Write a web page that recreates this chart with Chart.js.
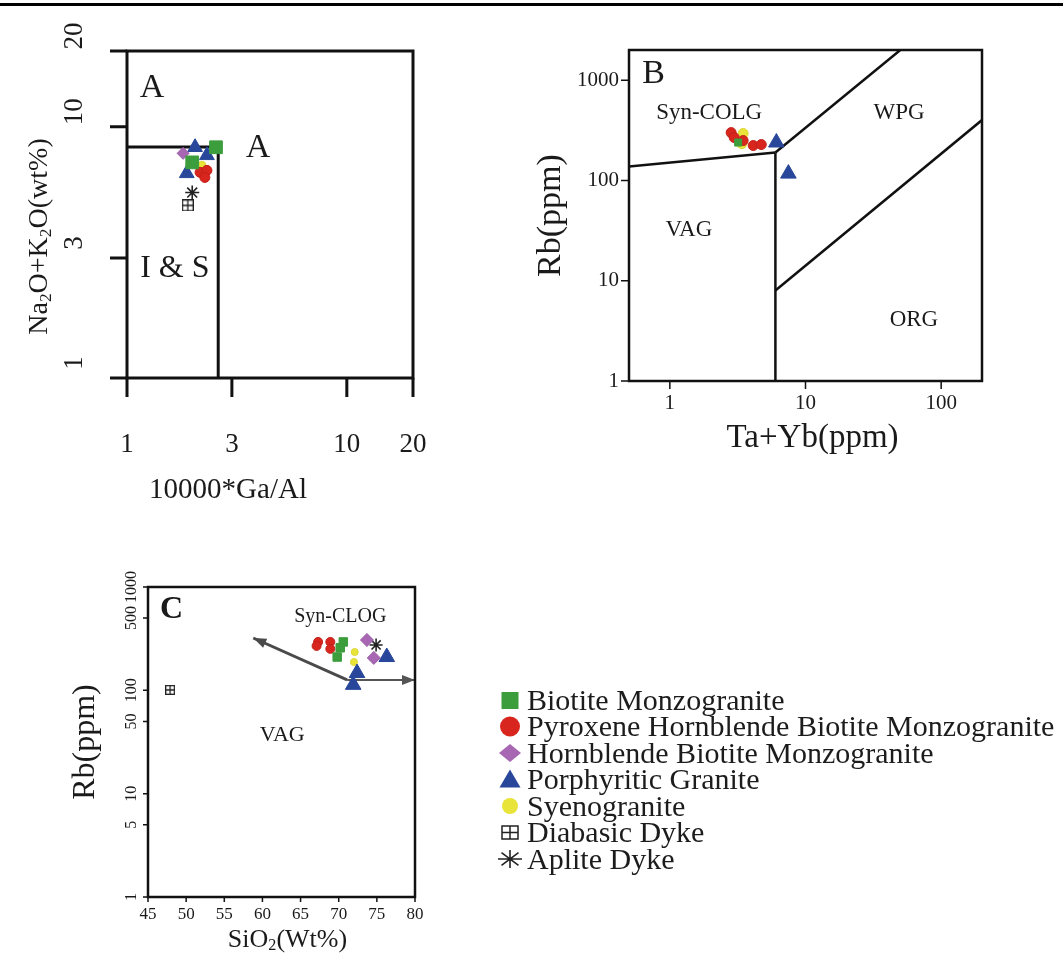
<!DOCTYPE html>
<html>
<head>
<meta charset="utf-8">
<script src="https://cdn.jsdelivr.net/npm/chart.js@4.4.1/dist/chart.umd.min.js"></script>
<style>
  html, body { margin: 0; padding: 0; background: #fff; }
  #page { position: relative; width: 1063px; height: 954px; overflow: hidden; }
  #page canvas { position: absolute; }
  #rule { position: absolute; left: 0; top: 3px; width: 1063px; height: 3px; background: #000; }
</style>
</head>
<body>
<div id="page">
  <div id="rule"></div>
  <canvas id="chartA" width="530" height="530" style="left:0;top:0;width:530px;height:530px"></canvas>
  <canvas id="chartB" width="533" height="470" style="left:530px;top:0;width:533px;height:470px"></canvas>
  <canvas id="chartC" width="1063" height="424" style="left:0;top:530px;width:1063px;height:424px"></canvas>
</div>
<script>
const SERIF = "'Liberation Serif', 'Times New Roman', serif";

// legend order
const seriesNames = ['Biotite Monzogranite', 'Pyroxene Hornblende Biotite Monzogranite',
  'Hornblende Biotite Monzogranite', 'Porphyritic Granite', 'Syenogranite', 'Diabasic Dyke', 'Aplite Dyke'];

// --- A: 10000*Ga/Al vs Na2O+K2O ---
const gaBiotite = [[2.54, 8.28], [1.98, 7.21]];
const gaPyroxene = [[2.15, 6.58], [2.31, 6.70], [2.26, 6.28]];
const gaHornblende = [[1.80, 7.83]];
const gaPorphyritic = [[2.04, 8.28], [2.31, 7.69], [1.87, 6.52]];
const gaSyeno = [[2.19, 7.02]];
const gaDiabase = [[1.89, 4.86]];
const gaAplite = [[1.98, 5.47]];
const gaTicksX = [1, 3, 10, 20];
const gaTicksY = [1, 3, 10, 20];
const gaBoundary = [[1, 8.3], [2.6, 8.3], [2.6, 1]];

// --- B: Ta+Yb vs Rb ---
const tyBiotite = [[3.19, 239]];
const tyPyroxene = [[2.83, 300], [2.98, 268], [3.47, 250], [4.12, 223], [4.72, 228]];
const tyHornblende = [];
const tyPorphyritic = [[6.1, 239], [7.48, 117]];
const tySyeno = [[3.47, 294], [3.40, 233]];
const tyDiabase = [];
const tyAplite = [];
const tyTicksX = [1, 10, 100];
const tyTicksY = [1, 10, 100, 1000];
const tyColgVag = [[0.5, 138], [6, 190]];
const tyVagWpg = [[6, 190], [6, 1]];
const tyColgWpg = [[6, 190], [50, 2000]];
const tyWpgOrg = [[6, 8], [200, 400]];

// --- C: SiO2 vs Rb ---
const siBiotite = [[70.6, 294], [70.2, 258], [69.8, 210]];
const siPyroxene = [[67.3, 294], [67.1, 269], [68.9, 294], [68.9, 252]];
const siHornblende = [[73.7, 307], [74.6, 206]];
const siPorphyritic = [[72.4, 147], [71.9, 113], [76.3, 210]];
const siSyeno = [[72.1, 235], [72.0, 188]];
const siDiabase = [[47.9, 101]];
const siAplite = [[74.9, 275]];
const siTicksX = [45, 50, 55, 60, 65, 70, 75, 80];
const siTicksY = [1, 5, 10, 50, 100, 500, 1000];
const siArrowUp = [[71.1, 126], [58.8, 321]];
const siArrowRight = [[71.1, 126], [80, 126]];

const seriesStyle = [
  { shape: 'rect', fill: '#3c9d3c', line: '#3c9d3c' },
  { shape: 'circle', fill: '#d8261e', line: '#c21f18' },
  { shape: 'rectRot', fill: '#a767b2', line: '#9a5aa5' },
  { shape: 'triangle', fill: '#28479a', line: '#28479a' },
  { shape: 'circle', fill: '#e8e43a', line: '#dcd636' },
  { shape: 'boxcross', fill: '#fff', line: '#222' },
  { shape: 'star', fill: '#222', line: '#222' }
];

function boxCross(size, lw) {
  const c = document.createElement('canvas');
  c.width = size; c.height = size;
  const g = c.getContext('2d');
  g.strokeStyle = '#222'; g.lineWidth = lw;
  g.strokeRect(lw / 2, lw / 2, size - lw, size - lw);
  g.beginPath();
  g.moveTo(size / 2, 0); g.lineTo(size / 2, size);
  g.moveTo(0, size / 2); g.lineTo(size, size / 2);
  g.stroke();
  return c;
}

// text with subscripts: parts = [[text, isSub], ...]
function drawRich(ctx, parts, x, y, size, align, weight) {
  const sub = size * 0.62;
  const fnt = s => (weight || '') + ' ' + (s ? sub : size) + 'px ' + SERIF;
  let total = 0;
  const widths = parts.map(([t, s]) => { ctx.font = fnt(s); const w = ctx.measureText(t).width; total += w; return w; });
  let cx = align === 'center' ? x - total / 2 : (align === 'right' ? x - total : x);
  ctx.textAlign = 'left';
  parts.forEach(([t, s], i) => {
    ctx.font = fnt(s);
    ctx.fillText(t, cx, s ? y + size * 0.22 : y);
    cx += widths[i];
  });
}

function framePlugin(o) {
  return {
    id: 'frame',
    afterDatasetsDraw(chart) {
      const { ctx, chartArea: a, scales: { x, y } } = chart;
      ctx.save();
      // arrowheads on line ends
      chart.data.datasets.forEach((ds, i) => {
        if (!ds.arrow) return;
        const pts = chart.getDatasetMeta(i).data;
        const p1 = pts[pts.length - 2], p2 = pts[pts.length - 1];
        const ang = Math.atan2(p2.y - p1.y, p2.x - p1.x);
        ctx.fillStyle = ds.borderColor;
        ctx.beginPath();
        ctx.moveTo(p2.x, p2.y);
        ctx.lineTo(p2.x - 13 * Math.cos(ang) + 5 * Math.sin(ang), p2.y - 13 * Math.sin(ang) - 5 * Math.cos(ang));
        ctx.lineTo(p2.x - 13 * Math.cos(ang) - 5 * Math.sin(ang), p2.y - 13 * Math.sin(ang) + 5 * Math.cos(ang));
        ctx.closePath(); ctx.fill();
      });
      // frame
      ctx.strokeStyle = '#111';
      ctx.lineWidth = o.lw;
      ctx.strokeRect(a.left, a.top, a.right - a.left, a.bottom - a.top);
      // tick marks
      ctx.beginPath();
      o.xTicks.forEach(v => { const px = x.getPixelForValue(v); ctx.moveTo(px, a.bottom); ctx.lineTo(px, a.bottom + o.xTickLen); });
      o.yTicks.forEach(v => { const py = y.getPixelForValue(v); ctx.moveTo(a.left, py); ctx.lineTo(a.left - o.yTickLen, py); });
      ctx.lineWidth = o.tickW;
      ctx.stroke();
      // tick labels
      ctx.fillStyle = '#1a1a1a';
      ctx.textBaseline = 'middle';
      ctx.font = o.xFont + 'px ' + SERIF;
      ctx.textAlign = 'center';
      o.xTicks.forEach(v => ctx.fillText(String(v), x.getPixelForValue(v), a.bottom + o.xLabelOff));
      ctx.font = o.yFont + 'px ' + SERIF;
      o.yTicks.forEach(v => {
        const py = y.getPixelForValue(v) + (o.yLabelDy || 0);
        if (o.yRotate) {
          ctx.save(); ctx.translate(a.left - o.yLabelOff, py); ctx.rotate(-Math.PI / 2);
          ctx.textAlign = 'center'; ctx.fillText(String(v), 0, 0); ctx.restore();
        } else {
          ctx.textAlign = 'right'; ctx.fillText(String(v), a.left - o.yLabelOff, py);
        }
      });
      // axis titles
      const cx = (a.left + a.right) / 2, cy = (a.top + a.bottom) / 2;
      drawRich(ctx, o.xTitle, cx + o.xTitleDx, a.bottom + o.xTitleOff, o.xTitleSize, 'center');
      ctx.save();
      ctx.translate(a.left - o.yTitleOff, cy + (o.yTitleDy || 0));
      ctx.rotate(-Math.PI / 2);
      drawRich(ctx, o.yTitle, 0, 0, o.yTitleSize, 'center');
      ctx.restore();
      // region / panel labels (data coordinates)
      o.notes.forEach(n => {
        ctx.font = (n.weight || '') + ' ' + n.size + 'px ' + SERIF;
        ctx.textAlign = 'center';
        ctx.fillText(n.t, x.getPixelForValue(n.x), y.getPixelForValue(n.y));
      });
      ctx.restore();
      if (o.legend) o.legend(ctx);
    }
  };
}

function makeChart(id, cfg) {
  const sets = cfg.points.map((pts, i) => {
    const st = seriesStyle[i];
    return {
      label: seriesNames[i],
      data: pts.map(p => ({ x: p[0], y: p[1] })),
      pointStyle: st.shape === 'boxcross' ? boxCross(cfg.boxSize, 1.3) : st.shape,
      pointRadius: cfg.sizes[i],
      pointHoverRadius: cfg.sizes[i],
      backgroundColor: st.fill,
      borderColor: st.line,
      borderWidth: st.shape === 'star' ? 1.6 : 1,
      order: 1
    };
  });
  cfg.lines.forEach(l => sets.push({
    label: '',
    data: l.pts.map(p => ({ x: p[0], y: p[1] })),
    showLine: true,
    borderColor: l.color || '#111',
    borderWidth: l.width || 2.5,
    pointRadius: 0,
    pointHoverRadius: 0,
    order: 5,
    arrow: l.arrow
  }));
  return new Chart(document.getElementById(id), {
    type: 'scatter',
    data: { datasets: sets },
    options: {
      responsive: false,
      animation: false,
      events: [],
      layout: { padding: cfg.padding },
      plugins: { legend: { display: false }, tooltip: { enabled: false } },
      scales: {
        x: { type: cfg.xType, min: cfg.xMin, max: cfg.xMax, display: false },
        y: { type: 'logarithmic', min: cfg.yMin, max: cfg.yMax, display: false }
      }
    },
    plugins: [framePlugin(cfg.axes)]
  });
}

makeChart('chartA', {
  points: [gaBiotite, gaPyroxene, gaHornblende, gaPorphyritic, gaSyeno, gaDiabase, gaAplite],
  sizes: [9, 5, 6, 8.5, 4, 6, 7], boxSize: 12,
  lines: [{ pts: gaBoundary, width: 3 }],
  padding: { left: 127, top: 51, right: 117, bottom: 152 },
  xType: 'logarithmic', xMin: 1, xMax: 20, yMin: 1, yMax: 20,
  axes: {
    lw: 3, tickW: 3, xTicks: gaTicksX, yTicks: gaTicksY, xTickLen: 19, yTickLen: 17,
    xFont: 27, xLabelOff: 67, yFont: 27, yRotate: true, yLabelOff: 52, yLabelDy: -15,
    xTitle: [['10000*Ga/Al', false]], xTitleDx: -42, xTitleOff: 112, xTitleSize: 29,
    yTitle: [['Na', false], ['2', true], ['O+K', false], ['2', true], ['O(wt%)', false]],
    yTitleOff: 87, yTitleDy: 22, yTitleSize: 28,
    notes: [
      { t: 'A', x: 1.30, y: 14.2, size: 34 },
      { t: 'A', x: 3.94, y: 8.2, size: 34 },
      { t: 'I & S', x: 1.65, y: 2.72, size: 32 }
    ]
  }
});

makeChart('chartB', {
  points: [tyBiotite, tyPyroxene, tyHornblende, tyPorphyritic, tySyeno, tyDiabase, tyAplite],
  sizes: [5, 5, 6, 9, 5, 5, 7], boxSize: 10,
  lines: [{ pts: tyColgVag }, { pts: tyVagWpg }, { pts: tyColgWpg }, { pts: tyWpgOrg }],
  padding: { left: 99, top: 50, right: 81, bottom: 89 },
  xType: 'logarithmic', xMin: 0.5, xMax: 200, yMin: 1, yMax: 2000,
  axes: {
    lw: 2.5, tickW: 1.5, xTicks: tyTicksX, yTicks: tyTicksY, xTickLen: 8, yTickLen: 8,
    xFont: 21, xLabelOff: 22, yFont: 21, yRotate: false, yLabelOff: 10,
    xTitle: [['Ta+Yb(ppm)', false]], xTitleDx: 7, xTitleOff: 57, xTitleSize: 33,
    yTitle: [['Rb(ppm)', false]], yTitleOff: 78, yTitleSize: 34,
    notes: [
      { t: 'B', x: 0.76, y: 1161, size: 34 },
      { t: 'Syn-COLG', x: 1.95, y: 475, size: 23 },
      { t: 'WPG', x: 48.9, y: 475, size: 23 },
      { t: 'VAG', x: 1.38, y: 31.8, size: 23 },
      { t: 'ORG', x: 63, y: 4.05, size: 23 }
    ]
  }
});

function drawLegend(ctx) {
  const x0 = 510, tx = 527, y0 = 700 - 530, step = 26.5, size = 30;
  ctx.save();
  seriesNames.forEach((name, i) => {
    const st = seriesStyle[i], y = y0 + i * step;
    ctx.fillStyle = st.fill; ctx.strokeStyle = st.line; ctx.lineWidth = 1.5;
    ctx.beginPath();
    if (st.shape === 'rect') { ctx.rect(x0 - 8.5, y - 8, 17, 17); ctx.fill(); }
    else if (st.shape === 'circle' && i === 1) { ctx.arc(x0, y, 10, 0, Math.PI * 2); ctx.fill(); }
    else if (st.shape === 'circle') { ctx.arc(x0, y, 8, 0, Math.PI * 2); ctx.fill(); }
    else if (st.shape === 'rectRot') { ctx.moveTo(x0, y - 9); ctx.lineTo(x0 + 11, y); ctx.lineTo(x0, y + 9); ctx.lineTo(x0 - 11, y); ctx.closePath(); ctx.fill(); }
    else if (st.shape === 'triangle') { ctx.moveTo(x0, y - 10); ctx.lineTo(x0 + 10.5, y + 8); ctx.lineTo(x0 - 10.5, y + 8); ctx.closePath(); ctx.fill(); }
    else if (st.shape === 'boxcross') {
      ctx.rect(x0 - 8, y - 6.5, 16, 13);
      ctx.moveTo(x0, y - 6.5); ctx.lineTo(x0, y + 6.5); ctx.moveTo(x0 - 8, y); ctx.lineTo(x0 + 8, y);
      ctx.stroke();
    } else if (st.shape === 'star') {
      ctx.lineWidth = 1.6;
      for (let k = 0; k < 4; k++) {
        const ang = k * Math.PI / 4;
        ctx.moveTo(x0 - 12 * Math.cos(ang), y - 9 * Math.sin(ang));
        ctx.lineTo(x0 + 12 * Math.cos(ang), y + 9 * Math.sin(ang));
      }
      ctx.stroke();
    }
    ctx.fillStyle = '#1c1c1c';
    ctx.font = size + 'px ' + SERIF;
    ctx.textAlign = 'left';
    ctx.textBaseline = 'alphabetic';
    ctx.fillText(name, tx, y + size * 0.32);
  });
  ctx.restore();
}

makeChart('chartC', {
  points: [siBiotite, siPyroxene, siHornblende, siPorphyritic, siSyeno, siDiabase, siAplite],
  sizes: [6, 4.5, 6.5, 9, 3.5, 5, 6.5], boxSize: 10,
  lines: [
    { pts: siArrowUp, color: '#4a4a4a', width: 3, arrow: true },
    { pts: siArrowRight, color: '#555555', width: 2, arrow: true }
  ],
  padding: { left: 148, top: 57, right: 648, bottom: 57 },
  xType: 'linear', xMin: 45, xMax: 80, yMin: 1, yMax: 1000,
  axes: {
    lw: 2.5, tickW: 1.5, xTicks: siTicksX, yTicks: siTicksY, xTickLen: 5, yTickLen: 5,
    xFont: 17, xLabelOff: 18, yFont: 16, yRotate: true, yLabelOff: 16,
    xTitle: [['SiO', false], ['2', true], ['(Wt%)', false]], xTitleDx: 6, xTitleOff: 43, xTitleSize: 26,
    yTitle: [['Rb(ppm)', false]], yTitleOff: 62, yTitleSize: 32,
    notes: [
      { t: 'C', x: 48.1, y: 600, size: 32, weight: 'bold' },
      { t: 'Syn-CLOG', x: 70.2, y: 514, size: 20 },
      { t: 'VAG', x: 62.6, y: 37, size: 22 }
    ],
    legend: drawLegend
  }
});
</script>
</body>
</html>
